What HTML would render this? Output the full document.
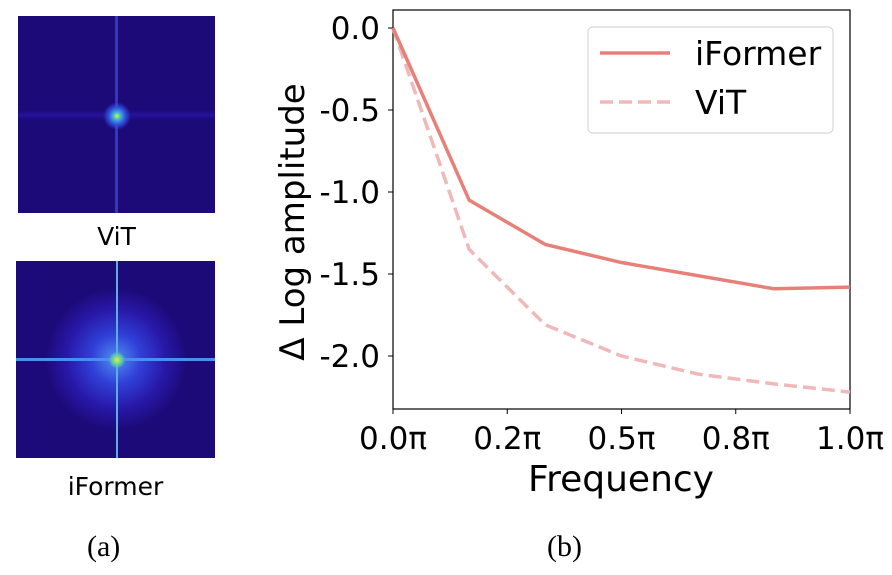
<!DOCTYPE html>
<html><head><meta charset="utf-8"><style>
body{margin:0;width:892px;height:575px;background:#fff;position:relative;overflow:hidden;font-family:"DejaVu Sans","Liberation Sans",sans-serif}
.hm{position:absolute;background:#1c0a78;overflow:hidden}
.lbl{position:absolute;font-size:25px;color:#000;text-align:center}
.cap{position:absolute;font-family:"Liberation Serif",serif;font-size:30px}
</style></head><body>
<div class="hm" style="left:18px;top:16px;width:197px;height:197px">
 <div style="position:absolute;left:0;top:94px;width:197px;height:10px;background:linear-gradient(#1c0a78,#24129a,#1c0a78)"></div>
 <div style="position:absolute;left:97px;top:0;width:3px;height:197px;background:#3236c0"></div>
 <div style="position:absolute;left:85px;top:86px;width:28px;height:28px;border-radius:50%;background:radial-gradient(#d8f040 0,#40b8d0 18%,#3050e0 42%,rgba(28,10,120,0) 70%)"></div>
</div>
<div class="lbl" style="left:18px;top:222px;width:197px">ViT</div>
<div class="hm" style="left:16px;top:261px;width:199px;height:197px">
 <div style="position:absolute;left:30px;top:28px;width:140px;height:140px;border-radius:50%;background:radial-gradient(#5090f0 0,#3040d8 25%,#2818a8 50%,rgba(28,10,120,0) 72%)"></div>
 <div style="position:absolute;left:0;top:97px;width:199px;height:3px;background:#4a8ef0"></div>
 <div style="position:absolute;left:100px;top:0;width:2px;height:197px;background:#58b0e0"></div>
 <div style="position:absolute;left:93px;top:91px;width:16px;height:16px;border-radius:50%;background:radial-gradient(#e0f040 0,#60d0a0 40%,rgba(60,100,230,0) 75%)"></div>
</div>
<div class="lbl" style="left:16px;top:472px;width:199px">iFormer</div>
<div class="cap" style="left:87px;top:530px">(a)</div>
<div class="cap" style="left:547px;top:530px">(b)</div>
<svg id="chart" width="892" height="575" style="position:absolute;left:0;top:0"></svg>
<script>
const xVals=[0,1/6,2/6,3/6,4/6,5/6,1];
const iformerVals=[0,-1.05,-1.32,-1.43,-1.51,-1.59,-1.58];
const vitVals=[0,-1.35,-1.81,-2.0,-2.11,-2.17,-2.22];
const yTicks=[0,-0.5,-1,-1.5,-2];
const yTickLabels=["0.0","-0.5","-1.0","-1.5","-2.0"];
const xTicks=[0,0.25,0.5,0.75,1];
const xTickLabels=["0.0π","0.2π","0.5π","0.8π","1.0π"];
const L=393,R=850,T=10,B=409;
const X=v=>L+v*(R-L);
const Y=v=>28-v*164;
const svg=document.getElementById('chart');
const NS='http://www.w3.org/2000/svg';
function mk(t,a,txt){const e=document.createElementNS(NS,t);for(const k in a)e.setAttribute(k,a[k]);if(txt!=null)e.textContent=txt;svg.appendChild(e);return e;}
const fr=mk('rect',{x:L,y:T,width:R-L,height:B-T,fill:'none',stroke:'#000','stroke-width':1.2});


yTicks.forEach((v,i)=>{
 const t=mk('line',{x1:L-5,x2:L,y1:Y(v),y2:Y(v),stroke:'#000'});
 
 
 const l=mk('text',{x:L-13,y:Y(v)+11,'text-anchor':'end','font-size':31,'font-family':'DejaVu Sans, sans-serif'},yTickLabels[i]);
 
 
});
xTicks.forEach((v,i)=>{
 const t=mk('line',{x1:X(v),x2:X(v),y1:B,y2:B+5,stroke:'#000'});
 
 
 const l=mk('text',{x:X(v),y:B+40,'text-anchor':'middle','font-size':31,'font-family':'DejaVu Sans, sans-serif'},xTickLabels[i]);
 
 
});
const xt=mk('text',{x:621,y:491,'text-anchor':'middle','font-size':36,'font-family':'DejaVu Sans, sans-serif'},'Frequency');


const yt=mk('text',{x:0,y:0,transform:'translate(304,222) rotate(-90)','text-anchor':'middle','font-size':34,'font-family':'DejaVu Sans, sans-serif'},'Δ Log amplitude');


const pts=a=>a.map((v,i)=>X(xVals[i])+','+Y(v)).join(' ');
const lv=mk('polyline',{points:pts(vitVals),fill:'none',stroke:'#f0b8b8','stroke-width':3.5,'stroke-dasharray':'13,6'});


const li=mk('polyline',{points:pts(iformerVals),fill:'none',stroke:'#e8807a','stroke-width':3.5});


const lg=mk('rect',{x:588,y:27,width:245,height:106,rx:5,fill:'#fff','fill-opacity':0.85,stroke:'#d8d8d8','stroke-width':1.2});


const l1=mk('line',{x1:600,x2:670,y1:53,y2:53,stroke:'#e8807a','stroke-width':3.5});


const t1=mk('text',{x:695,y:65,'font-size':33,'font-family':'DejaVu Sans, sans-serif'},'iFormer');


const l2=mk('line',{x1:600,x2:670,y1:102,y2:102,stroke:'#f0b8b8','stroke-width':3.5,'stroke-dasharray':'13,6'});


const t2=mk('text',{x:695,y:114,'font-size':33,'font-family':'DejaVu Sans, sans-serif'},'ViT');


</script>
</body></html>
